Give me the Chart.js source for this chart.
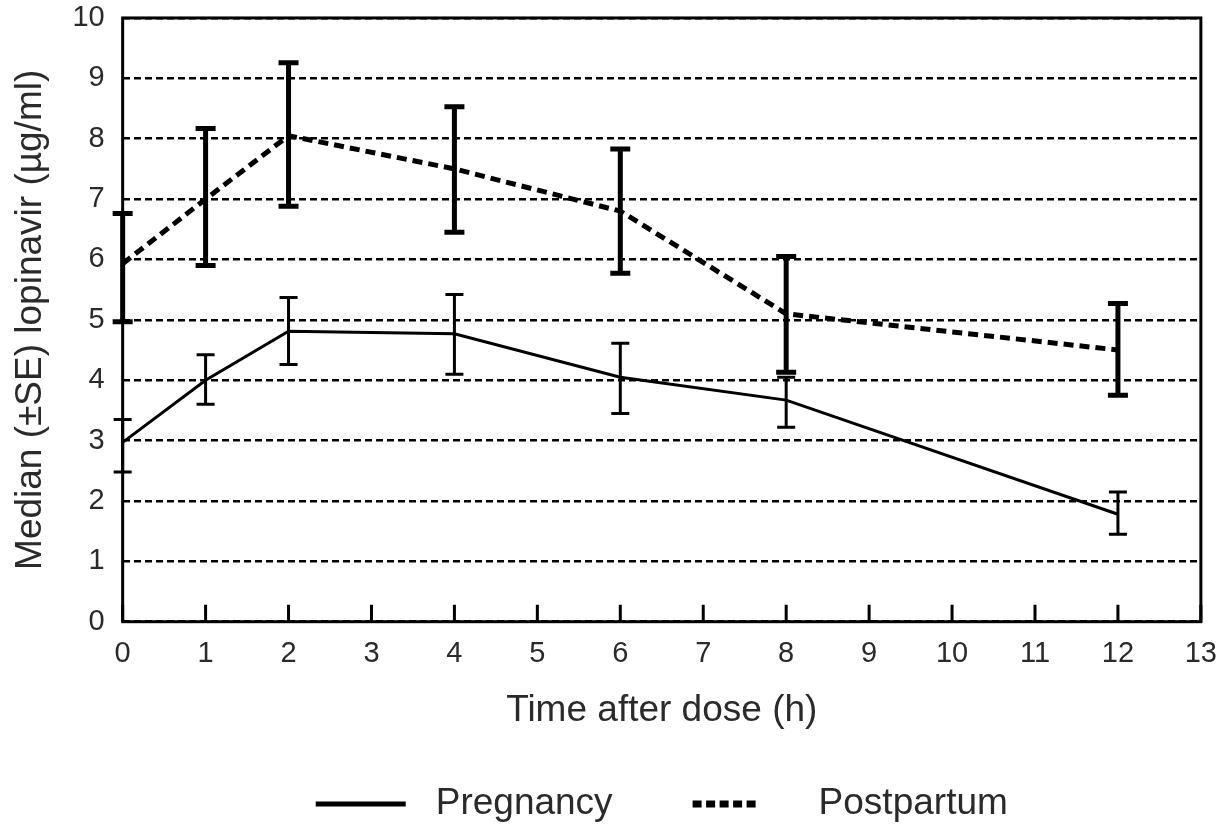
<!DOCTYPE html>
<html>
<head>
<meta charset="utf-8">
<script src="https://cdn.jsdelivr.net/npm/chart.js@4"></script>
<style>
  html, body { margin: 0; padding: 0; background: #fff; }
  #wrap { width: 1218px; height: 827px; }
</style>
</head>
<body>
<div id="wrap"><canvas id="pkChart" width="1218" height="827"></canvas></div>
<script>
// times (h) and median concentrations with SE bounds
const times = [0, 1, 2, 4, 6, 8, 12];
const pregnancy = [2.97, 4.0, 4.81, 4.77, 4.05, 3.67, 1.78];
const pregnancyHigh = [3.35, 4.42, 5.37, 5.42, 4.61, 4.05, 2.15];
const pregnancyLow = [2.48, 3.6, 4.26, 4.1, 3.45, 3.22, 1.45];
const postpartum = [5.93, 7.0, 8.05, 7.5, 6.8, 5.1, 4.5];
const postpartumHigh = [6.76, 8.17, 9.26, 8.53, 7.83, 6.05, 5.27];
const postpartumLow = [4.97, 5.9, 6.88, 6.45, 5.77, 4.13, 3.75];
const xTicks = [0, 1, 2, 3, 4, 5, 6, 7, 8, 9, 10, 11, 12, 13];
const yTicks = [0, 1, 2, 3, 4, 5, 6, 7, 8, 9, 10];

const font = "'Liberation Sans', Arial, sans-serif";
const textColor = "#2a2a2a";

//! error bars, frame, inward ticks
const extras = {
    id: "extras",
    afterDatasetsDraw(chart) {
        const { ctx, chartArea: a, scales: { x, y } } = chart;
        ctx.save();
        ctx.strokeStyle = "#000";
        ctx.setLineDash([]);
        ctx.lineCap = "butt";

        function bars(high, low, lw, cap) {
            ctx.lineWidth = lw;
            times.forEach((t, i) => {
                const px = x.getPixelForValue(t);
                const top = y.getPixelForValue(high[i]);
                const bot = y.getPixelForValue(low[i]);
                ctx.beginPath();
                ctx.moveTo(px, top);
                ctx.lineTo(px, bot);
                ctx.moveTo(px - cap / 2, top);
                ctx.lineTo(px + cap / 2, top);
                ctx.moveTo(px - cap / 2, bot);
                ctx.lineTo(px + cap / 2, bot);
                ctx.stroke();
            });
        }
        bars(pregnancyHigh, pregnancyLow, 3, 18);
        bars(postpartumHigh, postpartumLow, 5, 20);

        ctx.lineWidth = 3;
        ctx.beginPath();
        xTicks.forEach(t => {
            const px = x.getPixelForValue(t);
            ctx.moveTo(px, a.bottom);
            ctx.lineTo(px, a.bottom - 17);
        });
        ctx.stroke();

        ctx.lineWidth = 3;
        ctx.strokeRect(a.left, a.top, a.right - a.left, a.bottom - a.top);
        ctx.restore();
    },
    //! legend below the axis title
    afterDraw(chart) {
        const { ctx, chartArea: a } = chart;
        const keys = [
            { line: 90, gap: 30, width: 5, dash: [] },
            { line: 63, gap: 63, width: 7, dash: [9, 4.5] }
        ];
        const spacing = 80;
        const ly = 804;
        ctx.save();
        ctx.font = "37px " + font;
        ctx.textBaseline = "middle";
        const items = chart.data.datasets.map((ds, i) => ({
            label: ds.label, key: keys[i], tw: ctx.measureText(ds.label).width
        }));
        const total = items.reduce((s, it) => s + it.key.line + it.key.gap + it.tw, 0) + spacing * (items.length - 1);
        let cx = (a.left + a.right) / 2 - total / 2;
        items.forEach(it => {
            ctx.strokeStyle = "#000";
            ctx.lineWidth = it.key.width;
            ctx.setLineDash(it.key.dash);
            ctx.beginPath();
            ctx.moveTo(cx, ly);
            ctx.lineTo(cx + it.key.line, ly);
            ctx.stroke();
            ctx.fillStyle = textColor;
            ctx.fillText(it.label, cx + it.key.line + it.key.gap, ly);
            cx += it.key.line + it.key.gap + it.tw + spacing;
        });
        ctx.restore();
    }
};

const ctx = document.getElementById("pkChart").getContext("2d");
new Chart(ctx, {
    type: "line",
    data: {
        datasets: [
            {
                label: "Pregnancy",
                data: times.map((t, i) => ({ x: t, y: pregnancy[i] })),
                borderColor: "#000",
                borderWidth: 3,
                pointRadius: 0,
                tension: 0,
                clip: false
            },
            {
                label: "Postpartum",
                data: times.map((t, i) => ({ x: t, y: postpartum[i] })),
                borderColor: "#000",
                borderWidth: 5,
                borderDash: [10, 6],
                pointRadius: 0,
                tension: 0,
                clip: false
            }
        ]
    },
    options: {
        responsive: false,
        animation: false,
        layout: { padding: { left: 5, right: 0, top: 0, bottom: 94 } },
        plugins: {
            tooltip: { enabled: false },
            legend: { display: false }
        },
        scales: {
            x: {
                type: "linear",
                min: 0,
                max: 13,
                afterBuildTicks: s => { s.ticks = xTicks.map(v => ({ value: v })); },
                grid: { display: false, drawTicks: true, tickLength: 15, tickColor: "rgba(0,0,0,0)" },
                border: { display: false },
                ticks: { color: textColor, padding: 1, font: { family: font, size: 29, lineHeight: 1.1 } },
                title: {
                    display: true,
                    text: "Time after dose (h)",
                    color: textColor,
                    font: { family: font, size: 37 },
                    padding: { top: 18, bottom: 0 }
                }
            },
            y: {
                min: 0,
                max: 10,
                afterBuildTicks: s => { s.ticks = yTicks.map(v => ({ value: v })); },
                grid: {
                    color: "#000",
                    lineWidth: 2.5,
                    drawTicks: true,
                    tickLength: 16,
                    tickColor: "rgba(0,0,0,0)"
                },
                border: { display: false, dash: [7, 4] },
                ticks: { color: textColor, padding: 2, font: { family: font, size: 29, lineHeight: 1.1 } },
                title: {
                    display: true,
                    text: "Median (±SE) lopinavir (µg/ml)",
                    color: textColor,
                    font: { family: font, size: 37 },
                    padding: { top: 4, bottom: 17 }
                }
            }
        }
    },
    plugins: [extras]
});
</script>
</body>
</html>
